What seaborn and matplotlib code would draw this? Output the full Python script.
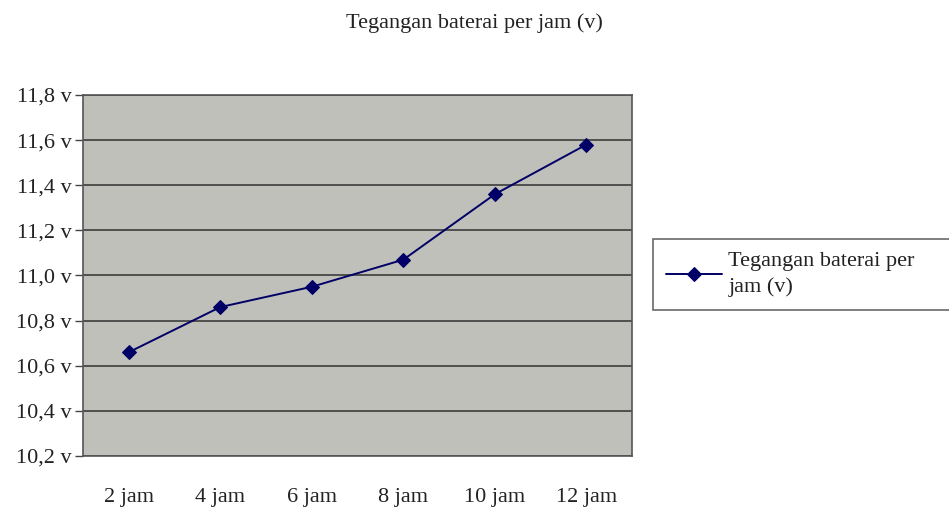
import matplotlib
matplotlib.use("Agg")
import matplotlib.pyplot as plt
import seaborn as sns
import pandas as pd

# Battery voltage readings every two hours
hours = ["2 jam", "4 jam", "6 jam", "8 jam", "10 jam", "12 jam"]
voltage = [10.66, 10.86, 10.95, 11.07, 11.36, 11.58]
y_ticks = [10.2, 10.4, 10.6, 10.8, 11.0, 11.2, 11.4, 11.6, 11.8]
y_tick_labels = ["10,2 v", "10,4 v", "10,6 v", "10,8 v", "11,0 v",
                 "11,2 v", "11,4 v", "11,6 v", "11,8 v"]
series_name = "Tegangan baterai per\njam (v)"
title = "Tegangan baterai per jam (v)"

sns.set_style("white")
plt.rcParams["font.family"] = ["Liberation Serif", "DejaVu Serif"]

df = pd.DataFrame({"pos": range(len(hours)), "v": voltage, "seri": series_name})

fig = plt.figure(figsize=(9.49, 5.08), dpi=100)
ax = fig.add_axes([0.0875, 0.1024, 0.5785, 0.7106])
ax.set_facecolor("#c0c0bb")

sns.lineplot(data=df, x="pos", y="v", hue="seri", palette=["#000066"],
             marker="D", markersize=7.5, markeredgecolor="#000066",
             linewidth=1.4, ax=ax, legend=True)

ax.set_xlim(-0.5, len(hours) - 0.5)
ax.set_ylim(y_ticks[0], y_ticks[-1])
ax.set_yticks(y_ticks)
ax.set_yticklabels(y_tick_labels)
ax.yaxis.grid(True, color="#3c3c3c", linewidth=1.2)
ax.set_axisbelow(True)

ax.set_xticks(range(len(hours)))
ax.set_xticklabels(hours)
ax.set_xticks([i + 0.5 for i in range(len(hours) - 1)], minor=True)
ax.tick_params(axis="x", which="major", length=0, pad=23, labelsize=16, colors="#222222")
ax.tick_params(axis="x", which="minor", length=5, width=1, color="#444444", direction="out")
ax.tick_params(axis="y", length=6, width=1, color="#444444", direction="out",
               labelsize=16, labelcolor="#222222", left=True, pad=2)
ax.set_xlabel("")
ax.set_ylabel("")

for side in ["left", "bottom", "top", "right"]:
    ax.spines[side].set_color("#555555")
    ax.spines[side].set_linewidth(1.2)

fig.text(0.5, 0.955, title, ha="center", va="center", fontsize=16, color="#222222")

handles, labels = ax.get_legend_handles_labels()
leg = ax.legend(handles, labels, loc="upper left", mode="expand",
                bbox_to_anchor=(0.688, 0.385, 0.33, 0.145),
                bbox_transform=fig.transFigure,
                frameon=True, fancybox=False, fontsize=16, handlelength=2.5,
                handletextpad=0.3, borderpad=0.6, borderaxespad=0,
                labelcolor="#222222")
for t in leg.get_texts():
    t.set_linespacing(1.4)
leg.get_frame().set_edgecolor("#444444")
leg.get_frame().set_linewidth(1.2)

fig.savefig("out.png", dpi=100, facecolor="white")
